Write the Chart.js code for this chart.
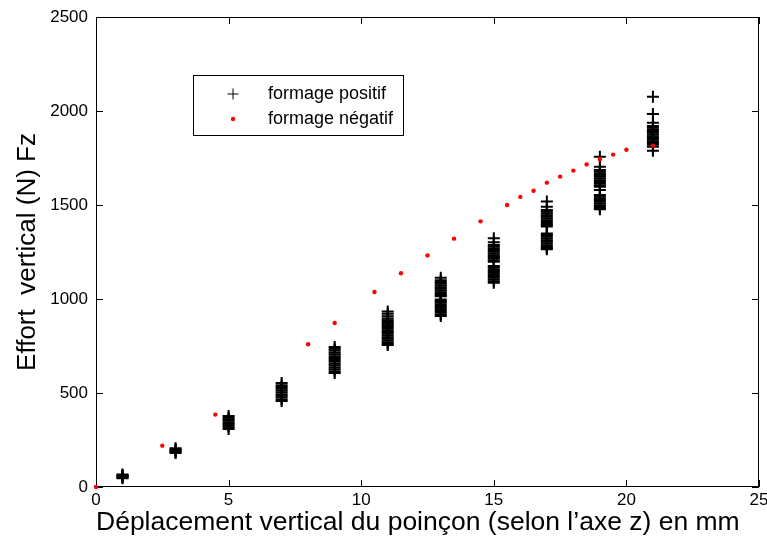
<!DOCTYPE html>
<html lang="fr">
<head>
<meta charset="UTF-8">
<title>Effort vertical</title>
<style>
  html, body { margin: 0; padding: 0; background: #fff; }
  canvas { display: block; }
</style>
</head>
<body>
<canvas id="effort" width="767" height="545"></canvas>
<script src="https://cdn.jsdelivr.net/npm/chart.js@4.4.1/dist/chart.umd.min.js"></script>
<script>
// formage positif : effort lu pour chaque passe (une liste par déplacement)
const positiveDisp = [1, 3, 5, 7, 9, 11, 13, 15, 17, 19, 21];
const pos01 = [46, 50, 55, 59, 63, 66];
const pos03 = [181, 186, 191, 196, 201, 206];
const pos05 = [309, 318, 326, 335, 343, 352, 360, 369, 378];
const pos07 = [457, 466, 476, 485, 494, 504, 513, 522, 532, 541, 553];
const pos09 = [606, 616, 626, 636, 646, 656, 666, 676, 686, 696, 706, 716, 726, 736, 745];
const pos11 = [934, 921, 908, 896, 887, 878, 869, 860, 851, 842, 833, 824, 815, 806, 797, 788, 779, 770, 762, 755];
const pos13 = [1113, 1100, 1090, 1081, 1072, 1063, 1054, 1045, 1036, 1027, 1018, 1014, 997, 990, 981, 972, 963, 954, 945, 936, 927, 918, 910];
const pos15 = [1323, 1302, 1287, 1278, 1269, 1260, 1251, 1242, 1233, 1224, 1215, 1206, 1198, 1176, 1167, 1158, 1149, 1140, 1131, 1122, 1113, 1104, 1095, 1087];
const pos17 = [1518, 1491, 1473, 1464, 1455, 1446, 1437, 1428, 1419, 1410, 1401, 1393, 1385, 1349, 1340, 1331, 1322, 1313, 1304, 1295, 1286, 1277, 1270, 1264];
const pos19 = [1757, 1704, 1686, 1677, 1668, 1659, 1650, 1641, 1632, 1623, 1614, 1605, 1597, 1580, 1553, 1544, 1535, 1526, 1517, 1508, 1499, 1490, 1483, 1477];
const pos21 = [2076, 1984, 1938, 1920, 1911, 1902, 1893, 1884, 1875, 1866, 1857, 1848, 1839, 1830, 1821, 1810, 1789];
const positiveFz = [pos01, pos03, pos05, pos07, pos09, pos11, pos13, pos15, pos17, pos19, pos21];

// formage négatif
const negativeDisp = [0, 2.5, 4.5, 8, 9, 10.5, 11.5, 12.5, 13.5, 14.5, 15.5, 16, 16.5, 17, 17.5, 18, 18.5, 19, 19.5, 20, 21];
const negativeFz = [0, 220, 385, 759, 872, 1037, 1137, 1232, 1321, 1413, 1500, 1543, 1576, 1619, 1651, 1683, 1716, 1743, 1768, 1794, 1816];

const xTicks = [0, 5, 10, 15, 20, 25];
const yTicks = [0, 500, 1000, 1500, 2000, 2500];

const FONT = "'Liberation Sans', Arial, Helvetica, sans-serif";

const positivePoints = [];
positiveDisp.forEach((d, i) => positiveFz[i].forEach(v => positivePoints.push({ x: d, y: v })));
const negativePoints = negativeDisp.map((d, i) => ({ x: d, y: negativeFz[i] }));

// cadre à la MATLAB, graduations vers l'intérieur sur les quatre côtés
const frame = {
    id: "frame",
    beforeDatasetsDraw(chart) {
        const { ctx, chartArea: a, scales: { x, y } } = chart;
        const t = 7;
        ctx.save();
        ctx.strokeStyle = "#000";
        ctx.lineWidth = 1;
        ctx.beginPath();
        xTicks.forEach(v => {
            const px = Math.round(x.getPixelForValue(v)) + 0.5;
            ctx.moveTo(px, a.bottom); ctx.lineTo(px, a.bottom - t);
            ctx.moveTo(px, a.top); ctx.lineTo(px, a.top + t);
        });
        yTicks.forEach(v => {
            const py = Math.round(y.getPixelForValue(v)) + 0.5;
            ctx.moveTo(a.left, py); ctx.lineTo(a.left + t, py);
            ctx.moveTo(a.right, py); ctx.lineTo(a.right - t, py);
        });
        ctx.stroke();
        ctx.strokeRect(a.left + 0.5, a.top + 0.5, a.right - a.left - 1, a.bottom - a.top - 1);
        ctx.restore();
    }
};

// légende encadrée dans la zone du tracé
const boxLegend = {
    id: "boxLegend",
    afterDatasetsDraw(chart) {
        const { ctx, chartArea: a } = chart;
        const left = a.left + 97, top = a.top + 58, w = 210, h = 60;
        ctx.save();
        ctx.fillStyle = "#fff";
        ctx.fillRect(left, top, w, h);
        ctx.strokeStyle = "#000";
        ctx.lineWidth = 1;
        ctx.strokeRect(left + 0.5, top + 0.5, w, h);
        const items = [chart.data.datasets[1], chart.data.datasets[0]];
        items.forEach((ds, i) => {
            const cy = top + 19 + i * 25;
            const cross = ds.pointStyle === "cross";
            ctx.strokeStyle = cross ? ds.borderColor : "transparent";
            ctx.fillStyle = cross ? "transparent" : ds.backgroundColor;
            ctx.lineWidth = 1;
            Chart.helpers.drawPoint(ctx, {
                pointStyle: ds.pointStyle,
                radius: cross ? 5.5 : ds.pointRadius,
                borderWidth: cross ? 1 : 0,
                rotation: 0
            }, left + 40, cy);
            ctx.fillStyle = "#000";
            ctx.font = "18px " + FONT;
            ctx.textAlign = "left";
            ctx.textBaseline = "middle";
            ctx.fillText(ds.label, left + 75, cy);
        });
        ctx.restore();
    }
};

new Chart(document.getElementById("effort"), {
    type: "scatter",
    data: {
        datasets: [
            {
                label: "formage négatif",
                data: negativePoints,
                pointStyle: "circle",
                pointRadius: 2.2,
                backgroundColor: "#ff0000",
                borderWidth: 0,
                order: 0,
                clip: false
            },
            {
                label: "formage positif",
                data: positivePoints,
                pointStyle: "cross",
                pointRadius: 6,
                borderColor: "#000",
                borderWidth: 2,
                order: 1,
                clip: false
            }
        ]
    },
    options: {
        responsive: false,
        animation: false,
        events: [],
        layout: { padding: { top: 17, right: 3, left: 0, bottom: 0 } },
        plugins: { legend: { display: false }, tooltip: { enabled: false } },
        scales: {
            x: {
                type: "linear",
                min: 0, max: 25,
                afterBuildTicks: s => { s.ticks = xTicks.map(v => ({ value: v })); },
                afterFit: s => { s.height = 58; s.paddingLeft = 0; s.paddingRight = 0; },
                grid: { display: false, drawTicks: false },
                border: { display: false },
                ticks: { padding: 3, color: "#000", font: { family: FONT, size: 17 }, callback: v => String(v) },
                title: {
                    display: true,
                    align: "start",
                    text: "Déplacement vertical du poinçon (selon l’axe z) en mm",
                    color: "#000",
                    font: { family: FONT, size: 26.5 },
                    padding: { top: 0, bottom: 6 }
                }
            },
            y: {
                type: "linear",
                min: 0, max: 2500,
                afterBuildTicks: s => { s.ticks = yTicks.map(v => ({ value: v })); },
                afterFit: s => { s.width = 96; s.paddingTop = 0; s.paddingBottom = 0; },
                grid: { display: false, drawTicks: false },
                border: { display: false },
                ticks: { padding: 8, color: "#000", font: { family: FONT, size: 17 }, callback: v => String(v) },
                title: {
                    display: true,
                    text: "Effort  vertical (N) Fz",
                    color: "#000",
                    font: { family: FONT, size: 26 },
                    padding: { top: 12, bottom: 0 }
                }
            }
        }
    },
    plugins: [frame, boxLegend]
});
</script>
</body>
</html>
